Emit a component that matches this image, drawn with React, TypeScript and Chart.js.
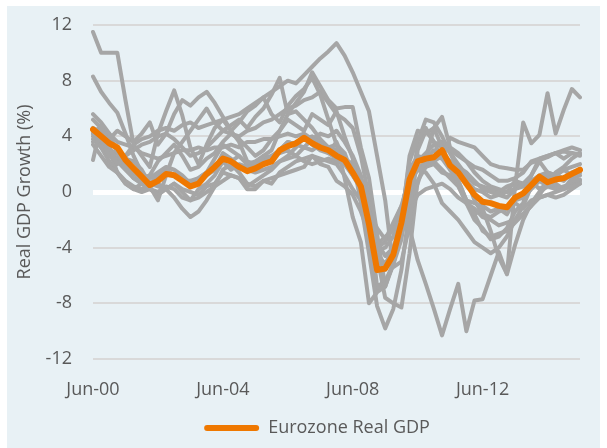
import React, { useEffect, useRef } from 'react';
import { Chart, registerables } from 'chart.js';

Chart.register(...registerables);

const quarters = [
  'Jun-00', 'Sep-00', 'Dec-00',
  'Mar-01', 'Jun-01', 'Sep-01', 'Dec-01',
  'Mar-02', 'Jun-02', 'Sep-02', 'Dec-02',
  'Mar-03', 'Jun-03', 'Sep-03', 'Dec-03',
  'Mar-04', 'Jun-04', 'Sep-04', 'Dec-04',
  'Mar-05', 'Jun-05', 'Sep-05', 'Dec-05',
  'Mar-06', 'Jun-06', 'Sep-06', 'Dec-06',
  'Mar-07', 'Jun-07', 'Sep-07', 'Dec-07',
  'Mar-08', 'Jun-08', 'Sep-08', 'Dec-08',
  'Mar-09', 'Jun-09', 'Sep-09', 'Dec-09',
  'Mar-10', 'Jun-10', 'Sep-10', 'Dec-10',
  'Mar-11', 'Jun-11', 'Sep-11', 'Dec-11',
  'Mar-12', 'Jun-12', 'Sep-12', 'Dec-12',
  'Mar-13', 'Jun-13', 'Sep-13', 'Dec-13',
  'Mar-14', 'Jun-14', 'Sep-14', 'Dec-14',
  'Mar-15', 'Jun-15',
];

const xTickLabels = ['Jun-00', 'Jun-04', 'Jun-08', 'Jun-12'];
const yTicks = [-12, -8, -4, 0, 4, 8, 12];

const eurozone = [
  4.5, 4.0, 3.5, 3.2, 2.3, 1.7, 1.1, 0.5,
  0.8, 1.3, 1.2, 0.8, 0.4, 0.6, 1.3, 1.8,
  2.4, 2.2, 1.8, 1.5, 1.7, 2.0, 2.2, 3.0,
  3.3, 3.5, 3.9, 3.5, 3.2, 3.0, 2.6, 2.3,
  1.4, 0.4, -2.3, -5.6, -5.5, -4.5, -2.2, 0.9,
  2.2, 2.4, 2.5, 3.0, 1.9, 1.4, 0.6, -0.2,
  -0.7, -0.8, -1.0, -1.1, -0.4, -0.1, 0.5, 1.1,
  0.7, 0.9, 1.0, 1.3, 1.6,
];

const ireland = [
  11.5, 10.0, 10.0, 10.0, 6.6, 3.4, 2.6, 1.8,
  4.2, 5.8, 7.3, 5.5, 3.2, 2.0, 3.4, 4.6,
  5.2, 4.4, 5.0, 5.8, 6.2, 6.8, 5.6, 5.0,
  6.2, 6.9, 7.4, 8.2, 7.0, 5.2, 3.4, 1.0,
  -1.8, -3.6, -8.0, -7.2, -6.8, -5.2, -2.6, -0.6,
  0.6, 2.4, 4.6, 3.2, 1.6, 0.8, -0.6, -1.6,
  -1.2, -2.8, -4.7, -5.9, 0.4, 5.0, 3.5, 4.1,
  7.1, 4.2, 5.9, 7.4, 6.8,
];

const luxembourg = [
  8.3, 7.2, 6.4, 5.7, 4.2, 2.6, 1.4, 0.4,
  -0.6, 1.2, 2.8, 3.6, 4.4, 5.2, 6.0, 5.0,
  4.4, 4.8, 5.2, 4.6, 5.4, 6.0, 7.0, 8.2,
  5.6, 6.4, 7.2, 8.6, 7.6, 6.6, 6.0, 6.1,
  6.1, 3.2, 1.0, -3.0, -6.8, -5.0, -1.8, 2.2,
  3.8, 4.6, 3.6, 2.4, 3.9, 3.6, 3.4, 3.2,
  2.6, 2.0, 1.8, 1.7, 1.6, 1.6, 2.1, 2.3,
  2.5, 2.8, 2.9, 2.8, 2.7,
];

const slovakia = [
  2.3, 4.8, 3.2, 2.0, 2.6, 3.4, 3.8, 4.0,
  4.4, 4.6, 4.4, 4.8, 5.0, 4.6, 4.8, 5.0,
  5.2, 5.4, 5.6, 6.0, 6.4, 6.8, 7.2, 7.6,
  8.0, 7.8, 8.4, 9.0, 9.6, 10.1, 10.7, 9.8,
  8.6, 7.2, 5.8, 2.6, -0.6, -5.4, -5.0, -2.4,
  3.0, 4.4, 3.6, 3.2, 3.0, 2.6, 2.2, 1.8,
  1.6, 1.2, 0.8, 0.8, 1.0, 1.4, 2.2, 2.4,
  2.6, 2.8, 3.0, 3.2, 3.0,
];

const finland = [
  5.6, 5.0, 4.2, 2.8, 1.8, 1.0, 0.6, 1.2,
  2.2, 2.8, 3.4, 2.6, 1.6, 1.8, 2.4, 2.8,
  3.6, 4.2, 3.8, 3.2, 2.6, 3.0, 3.8, 4.4,
  5.2, 4.8, 4.4, 5.6, 5.2, 4.8, 5.8, 4.0,
  2.4, -0.8, -4.4, -8.2, -9.8, -8.4, -5.6, -1.2,
  3.6, 5.2, 5.0, 4.0, 2.8, 1.6, 1.0, -0.6,
  -1.6, -1.8, -1.4, -1.2, -0.8, -1.2, -0.6, -0.4,
  -0.2, 0.0, 0.2, 0.4, 0.6,
];

const greece = [
  4.4, 4.6, 3.8, 4.4, 4.0, 3.6, 4.2, 5.0,
  3.4, 4.2, 5.6, 6.6, 6.2, 6.8, 7.2, 6.4,
  5.4, 4.4, 3.6, 2.2, 2.0, 2.6, 3.0, 4.4,
  5.6, 5.8, 5.2, 4.6, 3.8, 3.2, 3.4, 2.8,
  1.2, 0.4, -1.4, -2.6, -3.4, -2.2, -1.0, -2.6,
  -4.9, -6.6, -8.4, -10.3, -8.4, -6.6, -10.0, -7.8,
  -7.7, -6.0, -4.3, -5.9, -3.8, -2.0, -0.8, 0.0,
  0.4, 0.6, 0.2, 0.8, 0.9,
];

const germany = [
  3.4, 2.6, 1.8, 1.4, 0.6, 0.2, 0.0, 0.2,
  -0.2, 0.2, 0.6, 0.0, -0.6, -0.4, 0.0, 0.4,
  0.8, 1.2, 1.0, 0.4, 0.8, 1.2, 1.6, 2.2,
  2.6, 3.2, 4.0, 3.4, 3.0, 2.8, 3.6, 2.2,
  1.6, 0.6, -1.8, -6.8, -6.4, -5.2, -2.2, 2.6,
  4.4, 4.2, 4.6, 5.4, 3.2, 2.8, 2.2, 1.4,
  0.8, 0.4, 0.2, 0.0, 0.2, 0.6, 1.2, 2.2,
  1.4, 1.2, 1.6, 1.2, 1.6,
];

const france = [
  4.2, 3.8, 3.0, 2.4, 2.2, 1.4, 1.0, 1.2,
  0.8, 1.4, 1.2, 1.0, 0.4, 0.8, 1.2, 1.6,
  2.8, 2.4, 1.8, 1.6, 1.4, 1.6, 1.8, 2.2,
  2.4, 2.6, 2.2, 2.0, 2.2, 2.4, 2.2, 2.0,
  1.2, 0.2, -1.4, -3.8, -3.2, -2.8, -1.2, 1.2,
  1.8, 2.0, 2.2, 2.6, 2.2, 1.8, 1.4, 0.8,
  0.2, 0.0, -0.2, 0.0, 0.8, 0.6, 0.8, 0.2,
  0.6, 0.4, 0.2, 1.0, 1.2,
];

const italy = [
  3.6, 3.8, 2.6, 2.2, 2.4, 2.2, 1.6, 0.6,
  0.4, 0.2, 0.6, 0.2, 0.0, -0.2, 0.4, 0.6,
  1.4, 1.2, 1.0, 0.2, 0.2, 0.8, 0.6, 1.4,
  1.8, 2.2, 2.4, 2.6, 2.0, 1.8, 0.8, 0.4,
  -0.2, -1.4, -3.0, -7.0, -6.6, -5.2, -3.4, 0.6,
  1.6, 1.8, 2.0, 1.4, 1.2, 0.6, -0.8, -1.6,
  -2.8, -3.2, -3.0, -2.8, -2.2, -1.6, -1.0, -0.4,
  -0.2, -0.4, -0.2, 0.2, 0.6,
];

const spain = [
  5.2, 4.6, 4.2, 3.6, 3.4, 3.2, 2.8, 2.6,
  2.4, 2.6, 2.8, 3.0, 3.0, 3.2, 3.0, 3.2,
  3.2, 3.4, 3.2, 3.6, 3.6, 3.8, 3.8, 4.0,
  4.2, 4.0, 4.2, 3.8, 3.6, 3.2, 2.8, 2.4,
  1.6, 0.4, -1.2, -3.6, -4.6, -4.0, -3.0, -1.4,
  -0.2, 0.2, 0.4, 0.6, 0.2, -0.4, -0.8, -1.2,
  -1.8, -2.0, -2.4, -2.2, -2.0, -1.6, -1.0, -0.2,
  0.6, 1.4, 1.8, 2.4, 2.8,
];

const netherlands = [
  4.4, 4.0, 3.2, 2.2, 1.6, 1.0, 0.6, 0.2,
  0.0, 0.4, 0.2, -0.4, -0.6, 0.2, 0.6, 1.2,
  2.2, 1.6, 2.0, 1.8, 2.0, 2.4, 2.6, 3.0,
  3.6, 3.4, 3.2, 3.8, 4.2, 4.0, 4.4, 3.6,
  2.6, 1.2, -1.2, -4.4, -5.2, -4.0, -2.2, 0.2,
  2.4, 2.0, 2.6, 2.4, 1.6, 0.8, -0.6, -0.8,
  -1.0, -1.4, -1.2, -1.6, -0.6, -0.4, 0.2, 0.8,
  1.0, 1.2, 1.6, 1.8, 2.0,
];

const belgium = [
  4.6, 4.2, 3.0, 1.4, 0.6, 0.2, 0.6, 1.0,
  1.4, 1.8, 1.6, 1.2, 0.6, 1.0, 1.4, 2.4,
  3.4, 3.0, 2.6, 2.0, 1.6, 2.2, 2.6, 2.8,
  3.0, 2.6, 3.2, 3.0, 3.4, 2.8, 2.4, 2.0,
  1.2, 0.4, -1.6, -4.2, -4.0, -3.2, -1.4, 1.6,
  2.6, 2.4, 3.0, 2.8, 2.2, 1.6, 0.8, 0.2,
  0.0, -0.4, -0.2, -0.4, 0.2, 0.4, 0.8, 1.2,
  1.4, 1.2, 1.0, 1.2, 1.4,
];

const austria = [
  3.8, 3.2, 2.2, 1.4, 0.8, 0.4, 0.2, 0.6,
  1.2, 1.6, 1.2, 0.8, 0.8, 1.0, 1.4, 1.8,
  2.4, 2.2, 2.6, 2.0, 2.2, 2.6, 2.4, 3.0,
  3.6, 3.4, 3.8, 4.0, 3.6, 3.2, 3.0, 2.4,
  2.0, 0.6, -1.0, -5.4, -5.6, -4.4, -2.0, 0.4,
  2.2, 2.8, 3.4, 3.6, 2.8, 2.0, 1.2, 0.6,
  0.4, 0.2, 0.0, 0.4, 0.6, 0.4, 0.6, 0.8,
  0.4, 0.2, 0.4, 0.6, 0.8,
];

const portugal = [
  4.0, 3.2, 2.6, 2.2, 2.0, 1.4, 0.8, 0.4,
  0.6, 0.2, -0.4, -1.2, -1.8, -1.4, -0.6, 0.4,
  1.6, 2.0, 1.4, 0.6, 0.4, 0.8, 1.0, 1.2,
  1.4, 1.6, 1.8, 2.6, 2.4, 2.2, 2.0, 1.2,
  0.2, -0.6, -2.0, -4.0, -3.6, -2.4, -1.0, 1.0,
  1.6, 1.4, 0.6, -0.8, -1.4, -2.0, -2.8, -3.6,
  -4.0, -4.4, -4.0, -3.2, -2.0, -1.0, 0.4, 1.0,
  1.2, 1.0, 0.8, 1.4, 1.6,
];

const slovenia = [
  4.2, 3.4, 3.0, 2.8, 2.6, 3.0, 3.4, 3.6,
  4.0, 4.2, 3.8, 3.2, 2.6, 2.8, 3.2, 3.8,
  4.4, 4.2, 4.0, 4.4, 4.6, 5.0, 5.2, 5.6,
  6.0, 6.2, 6.6, 6.8, 7.2, 6.4, 5.6, 5.2,
  4.6, 2.6, -0.4, -4.6, -7.6, -8.0, -8.3, -4.4,
  0.8, 1.8, 2.2, 1.6, 1.0, 0.4, -0.8, -2.0,
  -2.6, -3.4, -3.2, -2.6, -1.4, -0.8, 1.2, 2.4,
  2.6, 2.8, 2.4, 2.8, 2.6,
];

const countrySeries = [
  ireland, luxembourg, slovakia, finland, greece, germany, france,
  italy, spain, netherlands, belgium, austria, portugal, slovenia,
];

const ORANGE = '#EF7800';
const GREY = '#A6A6A6';
const TEXT = '#595959';
const FONT = '"Open Sans", "Liberation Sans", sans-serif';

export default function App() {
  const ref = useRef<HTMLCanvasElement | null>(null);

  useEffect(() => {
    document.body.style.margin = '0';
    document.body.style.overflow = 'hidden';
    const canvas = ref.current;
    if (!canvas) return;

    const datasets: any[] = [
      {
        label: 'Eurozone Real GDP',
        data: eurozone,
        borderColor: ORANGE,
        backgroundColor: ORANGE,
        borderWidth: 6,
        pointRadius: 0,
        tension: 0,
        borderJoinStyle: 'round',
        borderCapStyle: 'round',
        order: 0,
      },
      ...countrySeries.map((s, i) => ({
        label: 'country' + i,
        data: s,
        borderColor: GREY,
        backgroundColor: GREY,
        borderWidth: 4,
        pointRadius: 0,
        tension: 0,
        borderJoinStyle: 'round',
        borderCapStyle: 'round',
        order: 1,
      })),
    ];

    const shiftLegend = {
      id: 'shiftLegend',
      afterLayout(chart: any) {
        const l = chart.legend;
        if (l) {
          l.left += 14;
          l.right += 14;
        }
      },
    };

    const chart = new Chart(canvas, {
      type: 'line',
      data: { labels: quarters, datasets },
      plugins: [shiftLegend],
      options: {
        animation: false,
        responsive: false,
        devicePixelRatio: 1,
        events: [],
        layout: { padding: { top: 19, right: 1, bottom: 1, left: 0 } },
        plugins: {
          tooltip: { enabled: false },
          legend: {
            position: 'bottom',
            labels: {
              color: TEXT,
              font: { family: FONT, size: 18 },
              boxWidth: 55,
              boxHeight: 6,
              padding: 10,
              useBorderRadius: true,
              borderRadius: 3,
              generateLabels: (c: any) =>
                Chart.defaults.plugins.legend.labels
                  .generateLabels(c)
                  .filter((l: any) => l.datasetIndex === 0)
                  .map((l: any) => ({ ...l, lineWidth: 0, fillStyle: ORANGE, strokeStyle: ORANGE })),
            },
          },
        },
        scales: {
          x: {
            type: 'category',
            offset: false,
            grid: { display: false, drawTicks: false },
            border: { display: false },
            afterFit: (scale: any) => {
              scale.height = 50;
            },
            ticks: {
              autoSkip: false,
              maxRotation: 0,
              minRotation: 0,
              padding: 20,
              color: TEXT,
              font: { family: FONT, size: 18 },
              callback: (_v: any, idx: number) =>
                xTickLabels.includes(quarters[idx]) ? quarters[idx] : '',
            },
          },
          y: {
            min: -12,
            max: 12,
            afterBuildTicks: (scale: any) => {
              scale.ticks = yTicks.map((v) => ({ value: v }));
            },
            afterFit: (scale: any) => {
              scale.width = 86;
              scale.paddingTop = 10;
              scale.paddingBottom = 10;
            },
            grid: {
              drawTicks: false,
              color: (ctx: any) => (ctx.tick && ctx.tick.value === 0 ? '#FFFFFF' : '#D9D9D9'),
              lineWidth: (ctx: any) => (ctx.tick && ctx.tick.value === 0 ? 5 : 2),
            },
            border: { display: false },
            ticks: {
              padding: 21,
              color: TEXT,
              font: { family: FONT, size: 18 },
              callback: (v: any) => String(v),
            },
            title: {
              display: true,
              text: 'Real GDP Growth (%)',
              color: TEXT,
              font: { family: FONT, size: 18 },
              padding: { top: 7, bottom: 0 },
            },
          },
        },
      } as any,
    });

    return () => chart.destroy();
  }, []);

  return (
    <div
      style={{
        position: 'absolute',
        left: 7,
        top: 6,
        width: 593,
        height: 442,
        background: '#E8F1F5',
      }}
    >
      <canvas ref={ref} width={593} height={442} style={{ display: 'block' }} />
    </div>
  );
}
